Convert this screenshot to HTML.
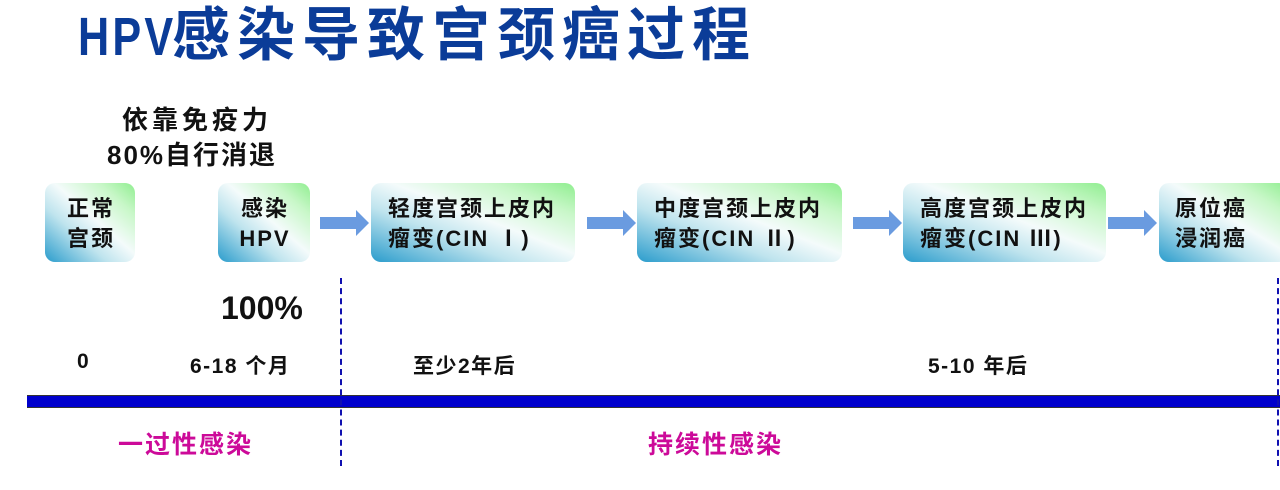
<!DOCTYPE html>
<html><head><meta charset="utf-8"><style>
body{margin:0;width:1280px;height:490px;background:#fff;position:relative;overflow:hidden;font-family:"Liberation Sans","Noto Sans CJK SC",sans-serif;font-weight:bold;color:#111}
.a{position:absolute;white-space:nowrap}
.box{position:absolute;top:183px;height:79px;border-radius:10px;background:linear-gradient(to top right,#2a9ccc 0%,#bfe4ee 35%,#f4fbfb 55%,#c8f7c8 80%,#90ee90 100%);font-size:22px;letter-spacing:2px;line-height:30px;box-sizing:border-box;padding-top:11px}
.arr{position:absolute;top:217px;width:36px;height:12px;background:#6a9be0}
.arr::after{content:"";position:absolute;left:36px;top:-7px;border-left:13px solid #6a9be0;border-top:13px solid transparent;border-bottom:13px solid transparent}
.dash{position:absolute;width:0;border-left:2px dashed #1010b0}
.t{font-size:21px;letter-spacing:1.5px}
.m{color:#cc0a99;font-size:25px;letter-spacing:2px}
</style></head><body>
<div class="a" style="left:78px;top:0px;font-size:58px;color:#0b3c98;letter-spacing:7px;line-height:72px"><span style="display:inline-block;width:94px;font-size:54px;letter-spacing:4px;transform:scaleX(.8);transform-origin:left">HPV</span>感染导致宫颈癌过程</div>
<div class="a" style="left:122px;top:100px;font-size:26px;letter-spacing:4px">依靠免疫力</div>
<div class="a" style="left:107px;top:135px;font-size:26px;letter-spacing:2px">80%自行消退</div>

<div class="box" style="left:45px;width:90px;text-align:center;padding-left:2px">正常<br>宫颈</div>
<div class="box" style="left:218px;width:92px;text-align:center;padding-left:2px">感染<br>HPV</div>
<div class="arr" style="left:320px"></div>
<div class="box" style="left:371px;width:204px;padding-left:17px">轻度宫颈上皮内<br>瘤变(CIN Ⅰ)</div>
<div class="arr" style="left:587px"></div>
<div class="box" style="left:637px;width:205px;padding-left:17px">中度宫颈上皮内<br>瘤变(CIN Ⅱ)</div>
<div class="arr" style="left:853px"></div>
<div class="box" style="left:903px;width:203px;padding-left:17px">高度宫颈上皮内<br>瘤变(CIN Ⅲ)</div>
<div class="arr" style="left:1108px"></div>
<div class="box" style="left:1159px;width:130px;padding-left:16px">原位癌<br>浸润癌</div>

<div class="a" style="left:221px;top:290px;font-size:32px">100%</div>
<div class="a t" style="left:77px;top:350px">0</div>
<div class="a t" style="left:190px;top:350px">6-18 个月</div>
<div class="a t" style="left:413px;top:350px">至少2年后</div>
<div class="a t" style="left:928px;top:350px">5-10 年后</div>

<div class="a" style="left:27px;top:395px;width:1260px;height:11px;background:#0000cc;border-top:1px solid #333;border-bottom:1px solid #333"></div>
<div class="dash" style="left:340px;top:278px;height:188px"></div>
<div class="dash" style="left:1277px;top:278px;height:188px"></div>

<div class="a m" style="left:118px;top:425px">一过性感染</div>
<div class="a m" style="left:648px;top:425px">持续性感染</div>
</body></html>
